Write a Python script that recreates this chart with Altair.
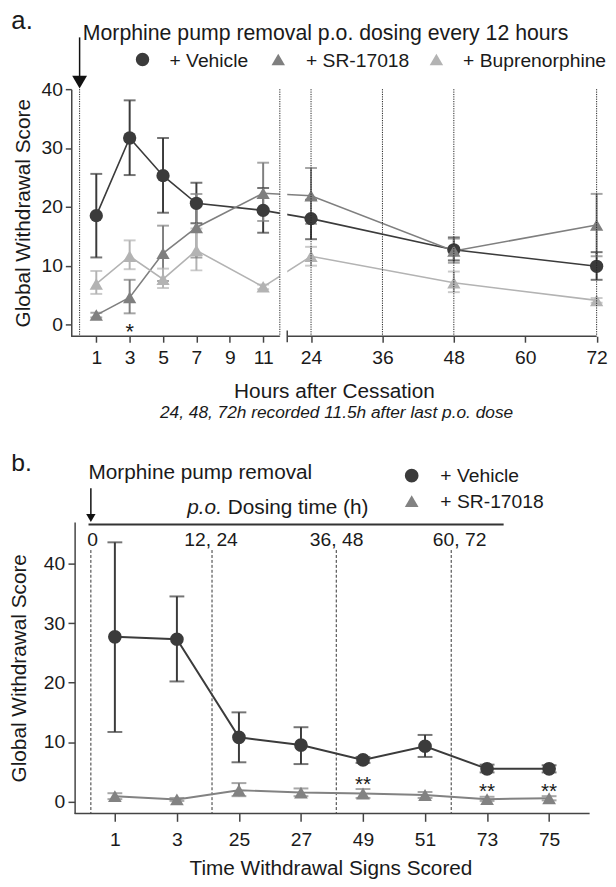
import json
import altair as alt
import pandas as pd

FONT = "Liberation Sans"
TXT = "#1a1a1a"

# ---------------- Panel a data ----------------
a_series = ["+ Vehicle", "+ SR-17018", "+ Buprenorphine"]
a_colors = ["#3b3b3b", "#7f7f7f", "#b3b3b3"]
a_shapes = ["circle", "triangle-up", "triangle-up"]
a_hours = [1, 3, 5, 7, 11, 24, 48, 72]
a_vehicle = [18.5, 31.7, 25.3, 20.6, 19.4, 18.0, 12.7, 9.9]
a_vehicle_lo = [11.4, 25.4, 19.0, 17.2, 15.6, 14.5, 10.9, 7.6]
a_vehicle_hi = [25.6, 38.1, 31.7, 24.1, 23.2, 21.2, 14.8, 12.3]
a_sr = [1.6, 4.6, 12.1, 16.5, 22.3, 21.9, 12.5, 16.9]
a_sr_lo = [1.2, 1.9, 7.4, 11.4, 17.6, 17.1, 10.5, 11.6]
a_sr_hi = [2.0, 7.6, 16.8, 22.2, 27.5, 26.6, 14.6, 22.2]
a_bup = [6.9, 11.6, 7.7, 12.6, 6.4, 11.6, 7.1, 4.1]
a_bup_lo = [5.2, 9.4, 6.2, 9.2, 6.0, 10.0, 5.5, 3.7]
a_bup_hi = [9.1, 14.3, 9.5, 16.3, 6.8, 13.2, 9.0, 4.5]
a_tick_values = [1, 3, 5, 7, 9, 11, 24, 36, 48, 60, 72]
a_dotted_hours = [0, 12, 24, 36, 48, 72]
a_axis_start = [-0.5, 20]
a_axis_end = [12, 72]
a_break = [12, 20]
a_sig_hours = [3]
a_sig_labels = ["*"]
a_sig_y = [-2.4]

# ---------------- Panel b data ----------------
b_series = ["+ Vehicle", "+ SR-17018"]
b_colors = ["#3b3b3b", "#828282"]
b_shapes = ["circle", "triangle-up"]
b_labels = ["1", "3", "25", "27", "49", "51", "73", "75"]
b_vehicle = [27.7, 27.3, 10.8, 9.5, 7.0, 9.3, 5.5, 5.5]
b_vehicle_lo = [11.7, 20.2, 6.6, 6.3, 6.5, 7.5, 4.9, 4.9]
b_vehicle_hi = [43.6, 34.5, 15.0, 12.5, 7.5, 11.2, 6.2, 6.1]
b_sr = [0.9, 0.35, 1.9, 1.5, 1.35, 1.1, 0.4, 0.55]
b_sr_lo = [0.4, 0.1, 0.9, 0.9, 0.6, 0.6, 0.1, 0.2]
b_sr_hi = [1.4, 0.6, 3.1, 2.2, 2.1, 1.6, 0.8, 0.9]
b_dose_labels = ["0", "12, 24", "36, 48", "60, 72"]
b_dose_label_pos = [-0.357, 1.55, 3.574, 5.558]
b_dash_pos = [-0.387, 1.566, 3.569, 5.422]
b_dose_line = [-0.425, 6.267]
b_axis_span = [-0.648, 7.653]
b_sig_idx = [4, 6, 7]
b_sig_labels = ["**", "**", "**"]
b_sig_y = [1.7, 0.55, 0.55]

# legend layout (pixels relative to each panel's plot area)
A_LEG_SYM_X = [72.1, 209.4, 369.4]
A_LEG_LAB_X = [99.4, 237.4, 396.4]
A_LEG_SYM_Y = -30
A_LEG_LAB_Y = -22.5
B_LEG_SYM_X = 344.4
B_LEG_LAB_X = 373.4
B_LEG_SYM_Y = [-47, -21.3]
B_LEG_LAB_Y = [-40.5, -14.7]

# ---------------- tables ----------------
rows = []
for s, vals, lo, hi in zip(a_series, [a_vehicle, a_sr, a_bup],
                           [a_vehicle_lo, a_sr_lo, a_bup_lo],
                           [a_vehicle_hi, a_sr_hi, a_bup_hi]):
    for h, v, l, u in zip(a_hours, vals, lo, hi):
        rows.append({"series": s, "hour": h, "value": v, "lo": l, "hi": u})
df_a = pd.DataFrame(rows)

rows = []
for s, vals, lo, hi in zip(b_series, [b_vehicle, b_sr],
                           [b_vehicle_lo, b_sr_lo], [b_vehicle_hi, b_sr_hi]):
    for i, (v, l, u) in enumerate(zip(vals, lo, hi)):
        rows.append({"series": s, "idx": i, "value": v, "lo": l, "hi": u})
df_b = pd.DataFrame(rows)


def label(text, x, y, size, style="normal", align="left"):
    return alt.Chart(pd.DataFrame({"t": [text]})).mark_text(
        fontSize=size, fontStyle=style, align=align, baseline="alphabetic", color=TXT
    ).encode(x=alt.value(x), y=alt.value(y), text="t:N")


def legend_symbol(shape, color, x, y, size):
    return alt.Chart(pd.DataFrame({"t": [0]})).mark_point(
        shape=shape, filled=True, size=size, color=color, opacity=1
    ).encode(x=alt.value(x), y=alt.value(y))


# ---------------- Panel a ----------------
XS_A = alt.Scale(domain=[-0.5, a_break[0], a_break[1], 72], range=[0, 211, 218.5, 531.5], nice=False, zero=False)
YS_A = alt.Scale(domain=[-2, 40], nice=False, zero=False)
AX_XA = alt.Axis(values=a_tick_values, domain=False, grid=False, tickSize=6, labelPadding=7,
                 labelFontSize=19.5, labelFlush=False, labelOverlap=False,
                 title="Hours after Cessation", titleFontSize=21, titlePadding=13)
AX_YA = alt.Axis(values=[0, 10, 20, 30, 40], grid=False, tickSize=6, labelPadding=3,
                 labelFontSize=19.5, title="Global Withdrawal Score", titleFontSize=21, titlePadding=8)


def xa(f):
    return alt.X(f, type="quantitative", scale=XS_A, axis=AX_XA)


def ya(f):
    return alt.Y(f, type="quantitative", scale=YS_A, axis=AX_YA)


CS_A = alt.Scale(domain=a_series, range=a_colors)
SS_A = alt.Scale(domain=a_series, range=a_shapes)
col_a = alt.Color("series:N", scale=CS_A, legend=None)

base_a = alt.Chart(df_a)
lines_a = base_a.mark_line(strokeWidth=1.6).encode(x=xa("hour"), y=ya("value"), color=col_a, order="hour:Q")
err_a = base_a.mark_rule(strokeWidth=2).encode(x=xa("hour"), y=ya("lo"), y2=alt.Y2("hi"), color=col_a)
caplo_a = base_a.mark_tick(orient="horizontal", size=12, thickness=2).encode(x=xa("hour"), y=ya("lo"), color=col_a)
caphi_a = base_a.mark_tick(orient="horizontal", size=12, thickness=2).encode(x=xa("hour"), y=ya("hi"), color=col_a)
pts_a = base_a.mark_point(filled=True, size=180, opacity=1).encode(
    x=xa("hour"), y=ya("value"), color=col_a,
    shape=alt.Shape("series:N", scale=SS_A, legend=None))

gap_a = alt.Chart(pd.DataFrame({"x0": [a_break[0]], "x1": [a_break[1]], "y0": [41], "y1": [-1.8]})).mark_rect(
    color="white").encode(x=xa("x0"), x2=alt.X2("x1"), y=ya("y0"), y2=alt.Y2("y1"))
dots_a = alt.Chart(pd.DataFrame({"hour": a_dotted_hours, "top": 40, "bot": -2})).mark_rule(
    strokeDash=[1.2, 1.2], strokeWidth=1, color="#222222").encode(x=xa("hour"), y=ya("top"), y2=alt.Y2("bot"))
axis_a = alt.Chart(pd.DataFrame({"s": a_axis_start, "e": a_axis_end, "y": -2})).mark_rule(
    color="#444444", strokeWidth=1.5).encode(x=xa("s"), x2=alt.X2("e"), y=ya("y"))
brk_a = alt.Chart(pd.DataFrame({"x": [a_break[1]], "y0": [-1.0], "y1": [-3.0]})).mark_rule(
    color="#444444", strokeWidth=1.5).encode(x=xa("x"), y=ya("y0"), y2=alt.Y2("y1"))
arrow_a = alt.Chart(pd.DataFrame({"x": [0], "y0": [48.8], "y1": [41.5]})).mark_rule(
    color="#111111", strokeWidth=1.5).encode(x=xa("x"), y=ya("y0"), y2=alt.Y2("y1"))
head_a = alt.Chart(pd.DataFrame({"x": [0], "y": [41.2]})).mark_point(
    shape="triangle-down", filled=True, size=225, color="#111111", opacity=1).encode(x=xa("x"), y=ya("y"))
sig_a = alt.Chart(pd.DataFrame({"hour": a_sig_hours, "y": a_sig_y, "t": a_sig_labels})).mark_text(
    fontSize=22, align="center", baseline="alphabetic", color=TXT).encode(x=xa("hour"), y=ya("y"), text="t:N")

anchor = alt.Chart(pd.DataFrame({"t": [0]})).mark_rect(opacity=0).encode(
    x=alt.value(-62.6), x2=alt.value(-61.6), y=alt.value(-83), y2=alt.value(-82))

legend_a = []
for s, c, sh, sx, lx in zip(a_series, a_colors, a_shapes, A_LEG_SYM_X, A_LEG_LAB_X):
    legend_a.append(legend_symbol(sh, c, sx, A_LEG_SYM_Y, 185))
    legend_a.append(label(s, lx, A_LEG_LAB_Y, 19.5))

panel_a = alt.layer(
    lines_a, err_a, caplo_a, caphi_a, pts_a, gap_a, dots_a, axis_a, brk_a, arrow_a, head_a, sig_a,
    *legend_a,
    label("a.", -60.6, -61, 26),
    label("Morphine pump removal p.o. dosing every 12 hours", 11.7, -50, 21.5),
    label("24, 48, 72h recorded 11.5h after last p.o. dose", 268.4, 333, 17.5, "italic", "center"),
    anchor,
).properties(width=531.5, height=250)

# ---------------- Panel b ----------------
XS_B = alt.Scale(domain=[-0.703, 7.653], nice=False, zero=False)
YS_B = alt.Scale(domain=[-2, 47], nice=False, zero=False)
AX_XB = alt.Axis(values=list(range(len(b_labels))), labelExpr=json.dumps(b_labels) + "[datum.value]",
                 domain=False, grid=False, tickSize=8, labelPadding=9.6, labelFontSize=19.5,
                 labelFlush=False, labelOverlap=False,
                 title="Time Withdrawal Signs Scored", titleFontSize=21, titlePadding=8.6)
AX_YB = alt.Axis(values=[0, 10, 20, 30, 40], grid=False, tickSize=6.7, labelPadding=3.3, offset=-3.4,
                 labelFontSize=19.5, title="Global Withdrawal Score", titleFontSize=21, titlePadding=13.8)


def xb(f):
    return alt.X(f, type="quantitative", scale=XS_B, axis=AX_XB)


def yb(f):
    return alt.Y(f, type="quantitative", scale=YS_B, axis=AX_YB)


CS_B = alt.Scale(domain=b_series, range=b_colors)
SS_B = alt.Scale(domain=b_series, range=b_shapes)
col_b = alt.Color("series:N", scale=CS_B, legend=None)

base_b = alt.Chart(df_b)
lines_b = base_b.mark_line(strokeWidth=2).encode(x=xb("idx"), y=yb("value"), color=col_b, order="idx:Q")
err_b = base_b.mark_rule(strokeWidth=2).encode(x=xb("idx"), y=yb("lo"), y2=alt.Y2("hi"), color=col_b)
caplo_b = base_b.mark_tick(orient="horizontal", size=15, thickness=2).encode(x=xb("idx"), y=yb("lo"), color=col_b)
caphi_b = base_b.mark_tick(orient="horizontal", size=15, thickness=2).encode(x=xb("idx"), y=yb("hi"), color=col_b)
pts_b = base_b.mark_point(filled=True, size=192, opacity=1).encode(
    x=xb("idx"), y=yb("value"), color=col_b,
    shape=alt.Shape("series:N", scale=SS_B, legend=None))

dash_b = alt.Chart(pd.DataFrame({"x": b_dash_pos, "top": 42.3, "bot": -2})).mark_rule(
    strokeDash=[3, 2], strokeWidth=1, color="#333333").encode(x=xb("x"), y=yb("top"), y2=alt.Y2("bot"))
axis_b = alt.Chart(pd.DataFrame({"s": [b_axis_span[0]], "e": [b_axis_span[1]], "y": [-2]})).mark_rule(
    color="#444444", strokeWidth=1.5).encode(x=xb("s"), x2=alt.X2("e"), y=yb("y"))
dose_b = alt.Chart(pd.DataFrame({"s": [b_dose_line[0]], "e": [b_dose_line[1]], "y": [46.6]})).mark_rule(
    color="#333333", strokeWidth=2).encode(x=xb("s"), x2=alt.X2("e"), y=yb("y"))
arrow_b = alt.Chart(pd.DataFrame({"x": [b_dash_pos[0]], "y0": [52.7], "y1": [48.0]})).mark_rule(
    color="#111111", strokeWidth=1.5).encode(x=xb("x"), y=yb("y0"), y2=alt.Y2("y1"))
head_b = alt.Chart(pd.DataFrame({"x": [b_dash_pos[0]], "y": [47.7]})).mark_point(
    shape="triangle-down", filled=True, size=90, color="#111111", opacity=1).encode(x=xb("x"), y=yb("y"))
doselab_b = alt.Chart(pd.DataFrame({"x": b_dose_label_pos, "y": 43.0, "t": b_dose_labels})).mark_text(
    fontSize=19.5, align="center", baseline="alphabetic", color=TXT).encode(x=xb("x"), y=yb("y"), text="t:N")
sig_b = alt.Chart(pd.DataFrame({"x": b_sig_idx, "y": b_sig_y, "t": b_sig_labels})).mark_text(
    fontSize=21, align="center", baseline="alphabetic", color=TXT).encode(x=xb("x"), y=yb("y"), text="t:N")

legend_b = []
for s, c, sh, sy, ly in zip(b_series, b_colors, b_shapes, B_LEG_SYM_Y, B_LEG_LAB_Y):
    legend_b.append(legend_symbol(sh, c, B_LEG_SYM_X, sy, 192))
    legend_b.append(label(s, B_LEG_LAB_X, ly, 19.5))

panel_b = alt.layer(
    dash_b, lines_b, err_b, caplo_b, caphi_b, pts_b, axis_b, dose_b, arrow_b, head_b, doselab_b, sig_b,
    *legend_b,
    label("b.", -60.6, -51.3, 25),
    label("Morphine pump removal", 17.4, -43.7, 21),
    label("p.o.", 117.4, -8, 21, "italic"),
    label("Dosing time (h)", 158.3, -8, 21),
).properties(width=524.4, height=294.7)

chart = (
    alt.vconcat(panel_a, panel_b, spacing=188, bounds="flush")
    .resolve_scale(x="independent", y="independent", color="independent", shape="independent")
    .properties(padding={"left": 0, "top": -6, "right": 0, "bottom": 0})
    .configure(font=FONT)
    .configure_view(stroke=None)
    .configure_axis(labelFont=FONT, titleFont=FONT, labelColor=TXT, titleColor=TXT,
                    domainColor="#444444", tickColor="#444444", domainWidth=1.5, tickWidth=1.5,
                    titleFontWeight="normal", grid=False)
)

chart.save("out.html", embed_options={"renderer": "svg", "actions": False})
